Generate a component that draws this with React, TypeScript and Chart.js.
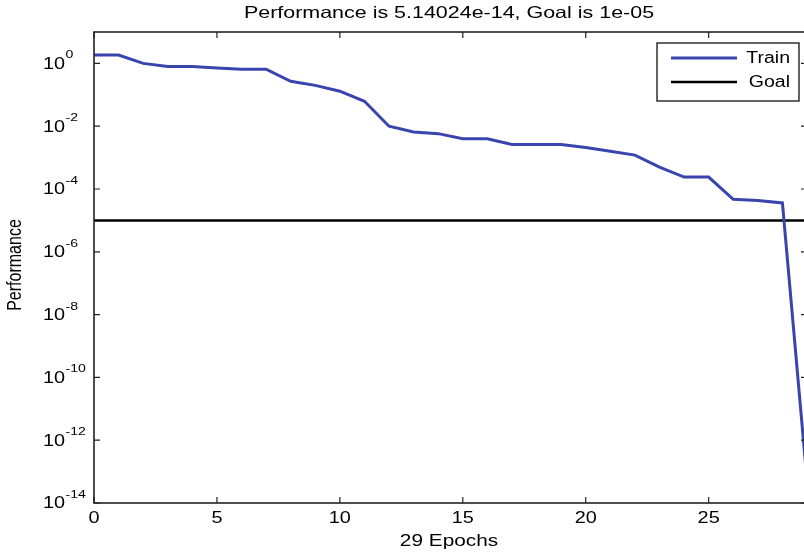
import React, { useEffect, useRef } from "react";
import { Chart, registerables } from "chart.js";

Chart.register(...registerables);

const epochs = [0, 1, 2, 3, 4, 5, 6, 7, 8, 9, 10, 11, 12, 13, 14, 15, 16, 17, 18, 19, 20, 21, 22, 23, 24, 25, 26, 27, 28, 29];
const trainPerf = [1.85, 1.85, 1.0, 0.8, 0.8, 0.72, 0.65, 0.65, 0.27, 0.2, 0.13, 0.062, 0.01, 0.0065, 0.0058, 0.004, 0.004, 0.0026, 0.0026, 0.0026, 0.0021, 0.0016, 0.0012, 5e-4, 2.4e-4, 2.4e-4, 4.7e-5, 4.3e-5, 3.6e-5, 5.14024e-14];
const goalValue = 1e-5;
const xTickValues = [0, 5, 10, 15, 20, 25];
const yTickExponents = [0, -2, -4, -6, -8, -10, -12, -14];
const titleText = "Performance is 5.14024e-14, Goal is 1e-05";
const xLabel = "29 Epochs";
const yLabel = "Performance";

const FONT = '"Liberation Sans", Arial, sans-serif';
const CW = 820;
const CH = 555;

function stretchText(ctx: any, text: string, x: number, y: number, align: string, sx: number, font: string) {
  ctx.save();
  ctx.translate(x, y);
  ctx.scale(sx, 1);
  ctx.font = font;
  ctx.textAlign = align;
  ctx.textBaseline = "middle";
  ctx.fillText(text, 0, 0);
  ctx.restore();
}

const overlay = {
  id: "matlabOverlay",
  afterDraw(chart: any) {
    const ctx = chart.ctx;
    const a = chart.chartArea;
    const xs = chart.scales.x;
    const ys = chart.scales.y;
    ctx.save();
    // box
    ctx.strokeStyle = "#222";
    ctx.lineWidth = 1.6;
    ctx.strokeRect(a.left, a.top, a.right - a.left, a.bottom - a.top);
    // ticks inward
    ctx.lineWidth = 1.2;
    ctx.beginPath();
    xTickValues.forEach((v) => {
      const px = xs.getPixelForValue(v);
      ctx.moveTo(px, a.bottom);
      ctx.lineTo(px, a.bottom - 6);
      ctx.moveTo(px, a.top);
      ctx.lineTo(px, a.top + 6);
    });
    yTickExponents.forEach((e) => {
      const py = ys.getPixelForValue(Math.pow(10, e));
      ctx.moveTo(a.left, py);
      ctx.lineTo(a.left + 6, py);
      ctx.moveTo(a.right, py);
      ctx.lineTo(a.right - 6, py);
    });
    ctx.stroke();
    ctx.fillStyle = "#000";
    // x tick labels
    xTickValues.forEach((v) => {
      const px = xs.getPixelForValue(v);
      stretchText(ctx, String(v), px, a.bottom + 16, "center", 1.24, `16px ${FONT}`);
    });
    // y tick labels with superscripts
    yTickExponents.forEach((e) => {
      const py = ys.getPixelForValue(Math.pow(10, e));
      stretchText(ctx, "10", 65, py + 1, "right", 1.24, `16px ${FONT}`);
      stretchText(ctx, e === 0 ? "0" : "-" + Math.abs(e), 65.5, py - 8, "left", 1.28, `11px ${FONT}`);
    });
    // title
    stretchText(ctx, titleText, 449, 13, "center", 1.3, `16.5px ${FONT}`);
    // x label
    stretchText(ctx, xLabel, 449, 542, "center", 1.3, `16px ${FONT}`);
    // y label
    ctx.save();
    ctx.translate(15, 265);
    ctx.rotate(-Math.PI / 2);
    ctx.scale(1, 1.25);
    ctx.font = `16px ${FONT}`;
    ctx.textAlign = "center";
    ctx.textBaseline = "middle";
    ctx.fillText(yLabel, 0, 0);
    ctx.restore();
    // legend
    const lx = 657, ly = 43, lw = 142, lh = 58;
    ctx.fillStyle = "#fff";
    ctx.fillRect(lx, ly, lw, lh);
    ctx.strokeStyle = "#222";
    ctx.lineWidth = 1.4;
    ctx.strokeRect(lx, ly, lw, lh);
    chart.data.datasets.forEach((ds: any, i: number) => {
      const yy = 58 + i * 24;
      ctx.strokeStyle = ds.borderColor;
      ctx.lineWidth = ds.borderWidth;
      ctx.beginPath();
      ctx.moveTo(671, yy);
      ctx.lineTo(737, yy);
      ctx.stroke();
      ctx.fillStyle = "#000";
      stretchText(ctx, ds.label, 790, yy + 1, "right", 1.22, `16px ${FONT}`);
    });
    ctx.restore();
  },
};

export default function App() {
  const ref = useRef<HTMLCanvasElement>(null);
  useEffect(() => {
    if (!ref.current) return;
    const chart = new Chart(ref.current, {
      type: "line",
      data: {
        datasets: [
          {
            label: "Train",
            data: epochs.map((e, i) => ({ x: e, y: trainPerf[i] })),
            borderColor: "#3944ad",
            borderWidth: 3,
            pointRadius: 0,
            tension: 0,
          },
          {
            label: "Goal",
            data: [
              { x: epochs[0], y: goalValue },
              { x: epochs[epochs.length - 1], y: goalValue },
            ],
            borderColor: "#000",
            borderWidth: 2.5,
            pointRadius: 0,
          },
        ],
      },
      options: {
        responsive: false,
        animation: false,
        devicePixelRatio: 1,
        layout: { padding: { top: 32, right: CW - 807, left: 0, bottom: 0 } },
        plugins: { legend: { display: false }, title: { display: false }, tooltip: { enabled: false } },
        scales: {
          x: {
            type: "linear",
            min: 0,
            max: 29,
            grid: { display: false, drawTicks: false },
            border: { display: false },
            afterBuildTicks: (s: any) => {
              s.ticks = xTickValues.map((v) => ({ value: v }));
            },
            afterFit: (s: any) => {
              s.height = 52;
            },
            ticks: { display: false },
          },
          y: {
            type: "logarithmic",
            min: 1e-14,
            max: 10,
            grid: { display: false, drawTicks: false },
            border: { display: false },
            afterBuildTicks: (s: any) => {
              s.ticks = yTickExponents.map((e) => ({ value: Math.pow(10, e) }));
            },
            afterFit: (s: any) => {
              s.width = 94;
            },
            ticks: { display: false },
          },
        },
      },
      plugins: [overlay],
    });
    return () => chart.destroy();
  }, []);
  return (
    <div style={{ position: "absolute", left: 0, top: 0, width: 804, height: 555, overflow: "hidden", background: "#fff" }}>
      <canvas ref={ref} width={CW} height={CH} style={{ width: CW, height: CH, display: "block" }} />
    </div>
  );
}
